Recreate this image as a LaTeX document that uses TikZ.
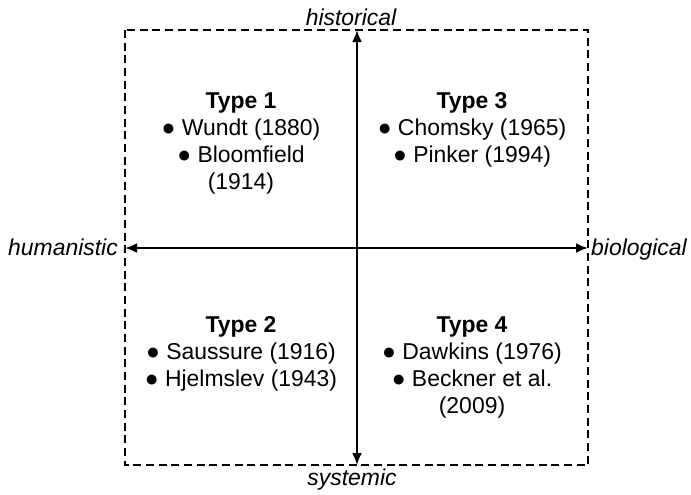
\documentclass[tikz,border=0pt]{standalone}
\usepackage{fontspec}
\setmainfont{Liberation Sans}
\usetikzlibrary{arrows.meta}

\tikzset{
	axis/.style={line width=1.7pt, {Latex[length=9pt,width=7.5pt]}-{Latex[length=9pt,width=7.5pt]}},
	frame/.style={line width=0.9pt, dash pattern=on 6pt off 3.5pt},
	pole/.style={font=\fontsize{17.2}{20.25}\selectfont\itshape, inner sep=0pt, anchor=base},
	quad/.style={font=\fontsize{17.2}{20.25}\selectfont, align=center, inner sep=0pt, anchor=north},
}

\begin{document}
\begin{tikzpicture}[x=0.75pt,y=-0.75pt]
		%%%%% START %%%%%
		\useasboundingbox (0,0) rectangle (691,494);
		
		% dashed frame
		\draw[frame] (125,30) rectangle (588,465);
		
		% axes
		\coordinate (top) at (357,30);
		\coordinate (bottom) at (357,465);
		\coordinate (left) at (125,248);
		\coordinate (right) at (588,248);
		\draw[axis] (top) -- (bottom);
		\draw[axis] (left) -- (right);
		
		% poles
		\node[pole] (hist) at (351,25) {historical};
		\node[pole] (syst) at (352,485) {systemic};
		\node[pole] (human) at (63,255) {humanistic};
		\node[pole] (bio) at (639,255) {biological};
		
		% quadrants
		\node[quad] (type1) at (241,92) {\textbf{Type 1}\\● Wundt (1880)\\● Bloomfield\\(1914)};
		\node[quad] (type3) at (472,92) {\textbf{Type 3}\\● Chomsky (1965)\\● Pinker (1994)};
		\node[quad] (type2) at (241,316) {\textbf{Type 2}\\● Saussure (1916)\\● Hjelmslev (1943)};
		\node[quad] (type4) at (472,316) {\textbf{Type 4}\\● Dawkins (1976)\\● Beckner et al.\\(2009)};
		%%%%% END %%%%%
\end{tikzpicture}
\end{document}
